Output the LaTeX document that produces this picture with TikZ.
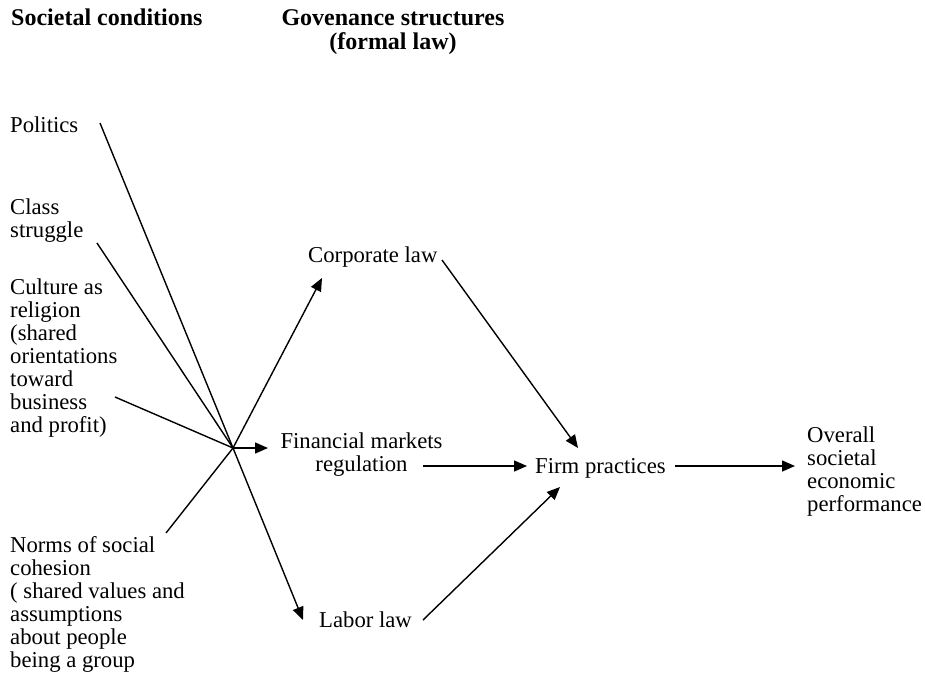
\documentclass[tikz,border=0pt]{standalone}
\usepackage{fontspec}
\setmainfont{Liberation Serif}
\usetikzlibrary{arrows.meta}
\begin{document}
\begin{tikzpicture}[x=1pt,y=-1pt,
  lbl/.style={inner sep=0pt, align=left, anchor=base west, font=\fontsize{22.7}{23}\selectfont},
  lblc/.style={inner sep=0pt, align=center, anchor=base, font=\fontsize{22.7}{23}\selectfont},
  hdr/.style={inner sep=0pt, align=center, anchor=base, font=\fontsize{24}{24}\selectfont\bfseries},
  conn/.style={line width=1.4pt},
  arr/.style={conn, -{Triangle[length=13pt,width=11pt]}}]
\useasboundingbox (0,0) rectangle (925,690);
% headers (multi-line nodes are placed by the baseline of their last line)
\node[hdr, anchor=base west] (soc) at (11,26) {Societal conditions};
\node[hdr] (gov) at (393,50) {Govenance structures\\(formal law)};
% left column
\node[lbl] (pol) at (10,132) {Politics};
\node[lbl] (cls) at (10,237) {Class\\struggle};
\node[lbl] (cul) at (10,432) {Culture as\\religion\\(shared\\orientations\\toward\\business\\and profit)};
\node[lbl] (nor) at (10,667) {Norms of social\\cohesion\\( shared values and\\assumptions\\about people\\being a group};
% middle
\node[lbl] (corp) at (308,262) {Corporate law};
\node[lblc] (fin) at (361.5,471) {Financial markets\\regulation};
\node[lbl] (lab) at (319,627) {Labor law};
\node[lbl] (firm) at (535,473) {Firm practices};
\node[lbl] (ovr) at (807,511) {Overall\\societal\\economic\\performance};
% connector points
\coordinate (hub) at (233,448);
\coordinate (polE) at (100,123);
\coordinate (clsE) at (97,243);
\coordinate (culE) at (115,397);
\coordinate (norE) at (166,533);
\coordinate (finTip) at (268,448);
\coordinate (corpTip) at (322,278);
\coordinate (labTip) at (303,620);
\coordinate (corpE) at (442,260);
\coordinate (corpIn) at (578,448);
\coordinate (labE) at (423,620);
\coordinate (labIn) at (560,487);
\coordinate (finE) at (423,466);
\coordinate (firmW) at (527,466);
\coordinate (firmE) at (675,466);
\coordinate (ovrW) at (795,466);
% connectors
\draw[conn] (polE) -- (hub);
\draw[conn] (clsE) -- (hub);
\draw[conn] (culE) -- (hub);
\draw[conn] (norE) -- (hub);
\draw[arr] (hub) -- (finTip);
\draw[arr] (hub) -- (corpTip);
\draw[arr] (hub) -- (labTip);
\draw[arr] (corpE) -- (corpIn);
\draw[arr] (labE) -- (labIn);
\draw[arr] (finE) -- (firmW);
\draw[arr] (firmE) -- (ovrW);
\end{tikzpicture}
\end{document}
